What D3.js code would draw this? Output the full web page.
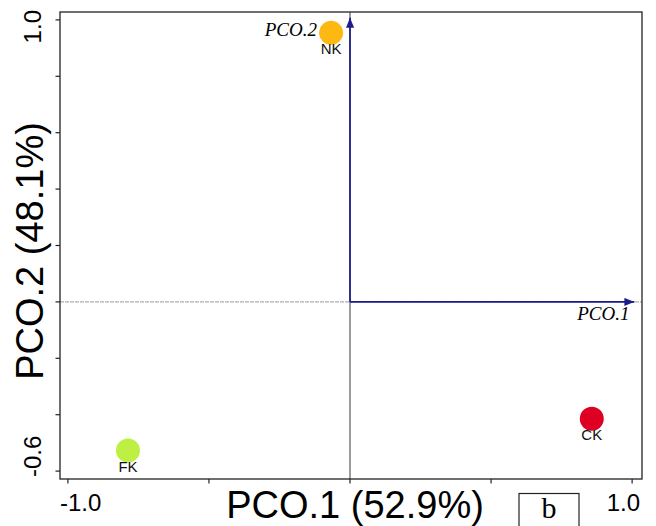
<!DOCTYPE html>
<html>
<head>
<meta charset="utf-8">
<script src="https://cdn.jsdelivr.net/npm/d3@7"></script>
<style>
  html, body { margin: 0; padding: 0; background: #fff; }
  svg { display: block; }
</style>
</head>
<body>
<svg id="chart" width="656" height="526"></svg>
<script>
// PCoA ordination: three treatments on the first two principal coordinates
const groups = ["NK", "CK", "FK"];
const pco1 = [-0.067, 0.857, -0.787];
const pco2 = [0.954, -0.414, -0.527];
const groupColors = ["#FDB812", "#DE0022", "#BEF043"];

const xTicks = [-1.0, -0.5, 0.0, 0.5, 1.0];
const xTickLabels = ["-1.0", "", "", "", "1.0"];
const yTicks = [-0.6, -0.4, -0.2, 0.0, 0.2, 0.4, 0.6, 0.8, 1.0];
const yTickLabels = ["-0.6", "", "", "", "", "", "", "", "1.0"];

const axisNames = ["PCO.1", "PCO.2"];
const explained = [52.9, 48.1];
const arrowLength = 1.008;
const panelTag = "b";

const svg = d3.select("#chart");
const plotLeft = 60, plotRight = 642, plotTop = 12, plotBottom = 479;

const x = d3.scaleLinear().domain([-1.028, 1.035]).range([plotLeft, plotRight]);
const y = d3.scaleLinear().domain([-0.628, 1.028]).range([plotBottom, plotTop]);

const sans = "'Liberation Sans', Arial, sans-serif";
const serif = "'Liberation Serif', 'Times New Roman', serif";

// reference lines through the origin
svg.append("line")
  .attr("x1", plotLeft).attr("x2", plotRight)
  .attr("y1", y(0)).attr("y2", y(0))
  .attr("stroke", "#9a9a9a").attr("stroke-width", 1)
  .attr("stroke-dasharray", "4,1");
svg.append("line")
  .attr("x1", x(0)).attr("x2", x(0))
  .attr("y1", plotTop).attr("y2", plotBottom)
  .attr("stroke", "#222").attr("stroke-width", 0.9);

// axis vectors
const defs = svg.append("defs");
defs.append("marker")
  .attr("id", "head")
  .attr("viewBox", "0 0 10 8")
  .attr("refX", 10).attr("refY", 4)
  .attr("markerWidth", 10).attr("markerHeight", 8)
  .attr("markerUnits", "userSpaceOnUse")
  .attr("orient", "auto")
  .append("path")
  .attr("d", "M0,0 L10,4 L0,8 Z")
  .attr("fill", "#1c1c8c");

const vectors = [[arrowLength, 0], [0, arrowLength]];
svg.selectAll("line.vec").data(vectors).enter().append("line")
  .attr("class", "vec")
  .attr("x1", x(0)).attr("y1", y(0))
  .attr("x2", d => x(d[0])).attr("y2", d => y(d[1]))
  .attr("stroke", "#1c1c8c").attr("stroke-width", 1.7)
  .attr("marker-end", "url(#head)");

// vector names
svg.append("text")
  .attr("x", x(arrowLength) - 5).attr("y", y(0) + 18)
  .attr("text-anchor", "end")
  .style("font-family", serif).style("font-style", "italic").style("font-size", "19px")
  .text(axisNames[0]);
svg.append("text")
  .attr("x", x(0) - 33).attr("y", y(arrowLength) + 18)
  .attr("text-anchor", "end")
  .style("font-family", serif).style("font-style", "italic").style("font-size", "19px")
  .text(axisNames[1]);

// treatment points
const pts = groups.map((g, i) => ({ g, px: pco1[i], py: pco2[i], c: groupColors[i] }));
svg.selectAll("circle.pt").data(pts).enter().append("circle")
  .attr("class", "pt")
  .attr("cx", d => x(d.px)).attr("cy", d => y(d.py))
  .attr("r", 12)
  .attr("fill", d => d.c);
svg.selectAll("text.pt").data(pts).enter().append("text")
  .attr("class", "pt")
  .attr("x", d => x(d.px)).attr("y", d => y(d.py) + 21)
  .attr("text-anchor", "middle")
  .style("font-family", sans).style("font-size", "15px")
  .attr("fill", "#111")
  .text(d => d.g);

// frame
svg.append("rect")
  .attr("x", plotLeft).attr("y", plotTop)
  .attr("width", plotRight - plotLeft).attr("height", plotBottom - plotTop)
  .attr("fill", "none").attr("stroke", "#222").attr("stroke-width", 1.3);

// ticks
svg.selectAll("line.xt").data(xTicks).enter().append("line")
  .attr("x1", d => x(d)).attr("x2", d => x(d))
  .attr("y1", plotBottom).attr("y2", plotBottom + 4.5)
  .attr("stroke", "#222").attr("stroke-width", 1.2);
svg.selectAll("line.yt").data(yTicks).enter().append("line")
  .attr("y1", d => y(d)).attr("y2", d => y(d))
  .attr("x1", plotLeft - 4.5).attr("x2", plotLeft)
  .attr("stroke", "#222").attr("stroke-width", 1.2);

// tick labels, kept within the extent of the frame
const xl = svg.selectAll("text.xl").data(xTicks.map((t, i) => ({ t, s: xTickLabels[i] })).filter(d => d.s))
  .enter().append("text")
  .attr("y", 511)
  .attr("text-anchor", "middle")
  .style("font-family", sans).style("font-size", "24px")
  .text(d => d.s);
xl.each(function (d) {
  const w = this.getComputedTextLength();
  let cx = x(d.t);
  cx = Math.max(cx, plotLeft + w / 2);
  cx = Math.min(cx, plotRight - 2 - w / 2);
  d3.select(this).attr("x", cx);
});

const yl = svg.selectAll("text.yl").data(yTicks.map((t, i) => ({ t, s: yTickLabels[i] })).filter(d => d.s))
  .enter().append("text")
  .attr("text-anchor", "middle")
  .style("font-family", sans).style("font-size", "24px")
  .text(d => d.s);
yl.each(function (d) {
  const w = this.getComputedTextLength();
  let cy = y(d.t);
  cy = Math.max(cy, plotTop - 2 + w / 2);
  cy = Math.min(cy, plotBottom - 2 - w / 2);
  d3.select(this).attr("transform", `translate(41,${cy}) rotate(-90)`);
});

// axis titles
svg.append("text")
  .attr("x", 355).attr("y", 518)
  .attr("text-anchor", "middle")
  .style("font-family", sans).style("font-size", "38px")
  .text(`${axisNames[0]} (${explained[0]}%)`);
svg.append("text")
  .attr("transform", "translate(43,251) rotate(-90)")
  .attr("text-anchor", "middle")
  .style("font-family", sans).style("font-size", "38px")
  .text(`${axisNames[1]} (${explained[1]}%)`);

// panel tag
svg.append("rect")
  .attr("x", 519).attr("y", 493.5)
  .attr("width", 60).attr("height", 40)
  .attr("fill", "#fff").attr("stroke", "#222").attr("stroke-width", 1.2);
svg.append("text")
  .attr("x", 549).attr("y", 518)
  .attr("text-anchor", "middle")
  .style("font-family", serif).style("font-size", "30px")
  .text(panelTag);
</script>
</body>
</html>
